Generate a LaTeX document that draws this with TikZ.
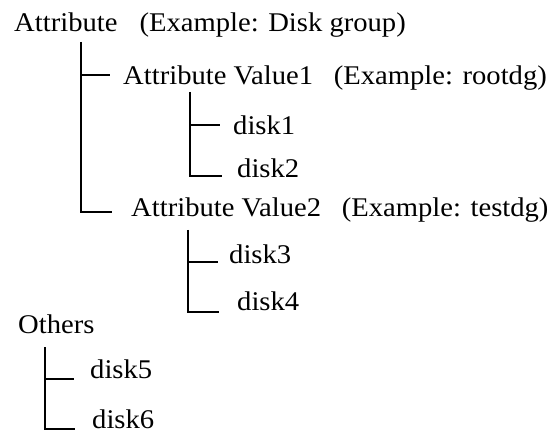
\documentclass[tikz,border=0pt]{standalone}
\usepackage{fontspec}
\setmainfont{Liberation Serif}[FakeStretch=1.06]
\begin{document}
\begin{tikzpicture}[x=1pt,y=-1pt,
  lbl/.style={anchor=base west,inner sep=0pt,font=\fontsize{27}{32}\selectfont},
  tree/.style={line width=2pt,line cap=butt}]
\useasboundingbox (0,0) rectangle (555,433);
% texts
\node[lbl] (attr) at (14,32) {Attribute\hspace{0.55em} (Example: Disk group)};
\node[lbl] (av1) at (123,85) {Attribute Value1\hspace{0.5em} (Example: rootdg)};
\node[lbl] (d1) at (233,135) {disk1};
\node[lbl] (d2) at (237,178) {disk2};
\node[lbl] (av2) at (131,217) {Attribute Value2\hspace{0.5em} (Example: testdg)};
\node[lbl] (d3) at (229,264) {disk3};
\node[lbl] (d4) at (237,310) {disk4};
\node[lbl] (oth) at (18,333) {Others};
\node[lbl] (d5) at (90,378) {disk5};
\node[lbl] (d6) at (92,428) {disk6};
% tree coordinates
\coordinate (t1) at (81,42);
\coordinate (e1a) at (110,75);
\coordinate (e1b) at (112,212);
\coordinate (t2) at (190,92);
\coordinate (e2a) at (220,125);
\coordinate (e2b) at (222,176);
\coordinate (t3) at (187.5,230);
\coordinate (e3a) at (218,262);
\coordinate (e3b) at (219,312);
\coordinate (t4) at (44.5,347);
\coordinate (e4a) at (74,379);
\coordinate (e4b) at (75,429);
% connectors
\draw[tree] (t1) |- (e1b);
\draw[tree] (t1 |- e1a) -- (e1a);
\draw[tree] (t2) |- (e2b);
\draw[tree] (t2 |- e2a) -- (e2a);
\draw[tree] (t3) |- (e3b);
\draw[tree] (t3 |- e3a) -- (e3a);
\draw[tree] (t4) |- (e4b);
\draw[tree] (t4 |- e4a) -- (e4a);
\end{tikzpicture}
\end{document}
